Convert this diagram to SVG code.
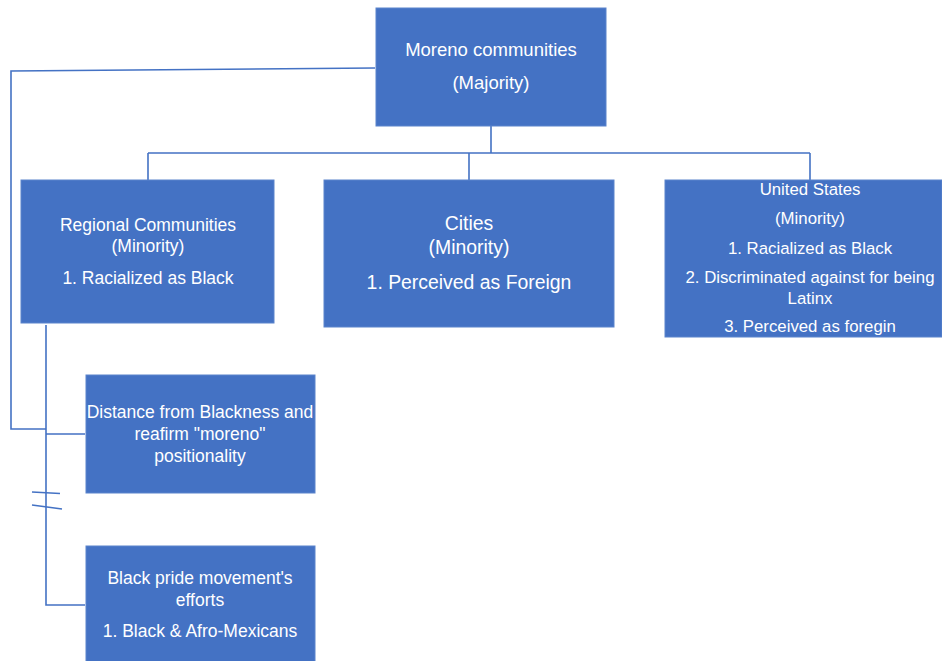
<svg xmlns="http://www.w3.org/2000/svg" width="942" height="661" viewBox="0 0 942 661">
<style>
.box{fill:#4472C4;stroke:#5B84CC;stroke-width:1}
.t{fill:#FFFFFF;font-family:"Liberation Sans",Arial,sans-serif;font-size:17.5px;text-anchor:middle}
.s{font-size:16.8px}
.b{font-size:19.4px}
.m{font-size:18.5px}
.c{fill:none;stroke:#4472C4;stroke-width:1.6}
</style>
<rect width="942" height="661" fill="#FFFFFF"/>
<g id="connectors">
<path class="c" d="M491,126 V153 M148,153 H810 M148,153 V180 M469,153 V180 M810,153 V180"/>
<path class="c" d="M375,68 L11,71 V429 H46"/>
<path class="c" d="M46,325 V605 H85 M46,434 H85"/>
<path class="c" d="M32,492 L60,493.5 M32,505 L62,509"/>
</g>
<g id="moreno">
<rect class="box" x="376" y="8" width="230" height="118"/>
<text class="t m" x="491" y="56">Moreno communities</text>
<text class="t m" x="491" y="89">(Majority)</text>
</g>
<g id="regional">
<rect class="box" x="21" y="180" width="253" height="143"/>
<text class="t" x="148" y="231">Regional Communities</text>
<text class="t" x="148" y="252">(Minority)</text>
<text class="t" x="148" y="284">1. Racialized as Black</text>
</g>
<g id="cities">
<rect class="box" x="324" y="180" width="290" height="147"/>
<text class="t b" x="469" y="230">Cities</text>
<text class="t b" x="469" y="254">(Minority)</text>
<text class="t b" x="469" y="289">1. Perceived as Foreign</text>
</g>
<g id="us">
<rect class="box" x="665" y="180" width="277" height="157"/>
<text class="t s" x="810" y="195">United States</text>
<text class="t s" x="810" y="224">(Minority)</text>
<text class="t s" x="810" y="254">1. Racialized as Black</text>
<text class="t s" x="810" y="283">2. Discriminated against for being</text>
<text class="t s" x="810" y="304">Latinx</text>
<text class="t s" x="810" y="332">3. Perceived as foregin</text>
</g>
<g id="distance">
<rect class="box" x="86" y="375" width="229" height="118"/>
<text class="t" x="200" y="418">Distance from Blackness and</text>
<text class="t" x="200" y="440">reafirm "moreno"</text>
<text class="t" x="200" y="462">positionality</text>
</g>
<g id="blackpride">
<rect class="box" x="86" y="546" width="229" height="120"/>
<text class="t" x="200" y="584">Black pride movement's</text>
<text class="t" x="200" y="606">efforts</text>
<text class="t" x="200" y="637">1. Black &amp; Afro-Mexicans</text>
</g>
</svg>
